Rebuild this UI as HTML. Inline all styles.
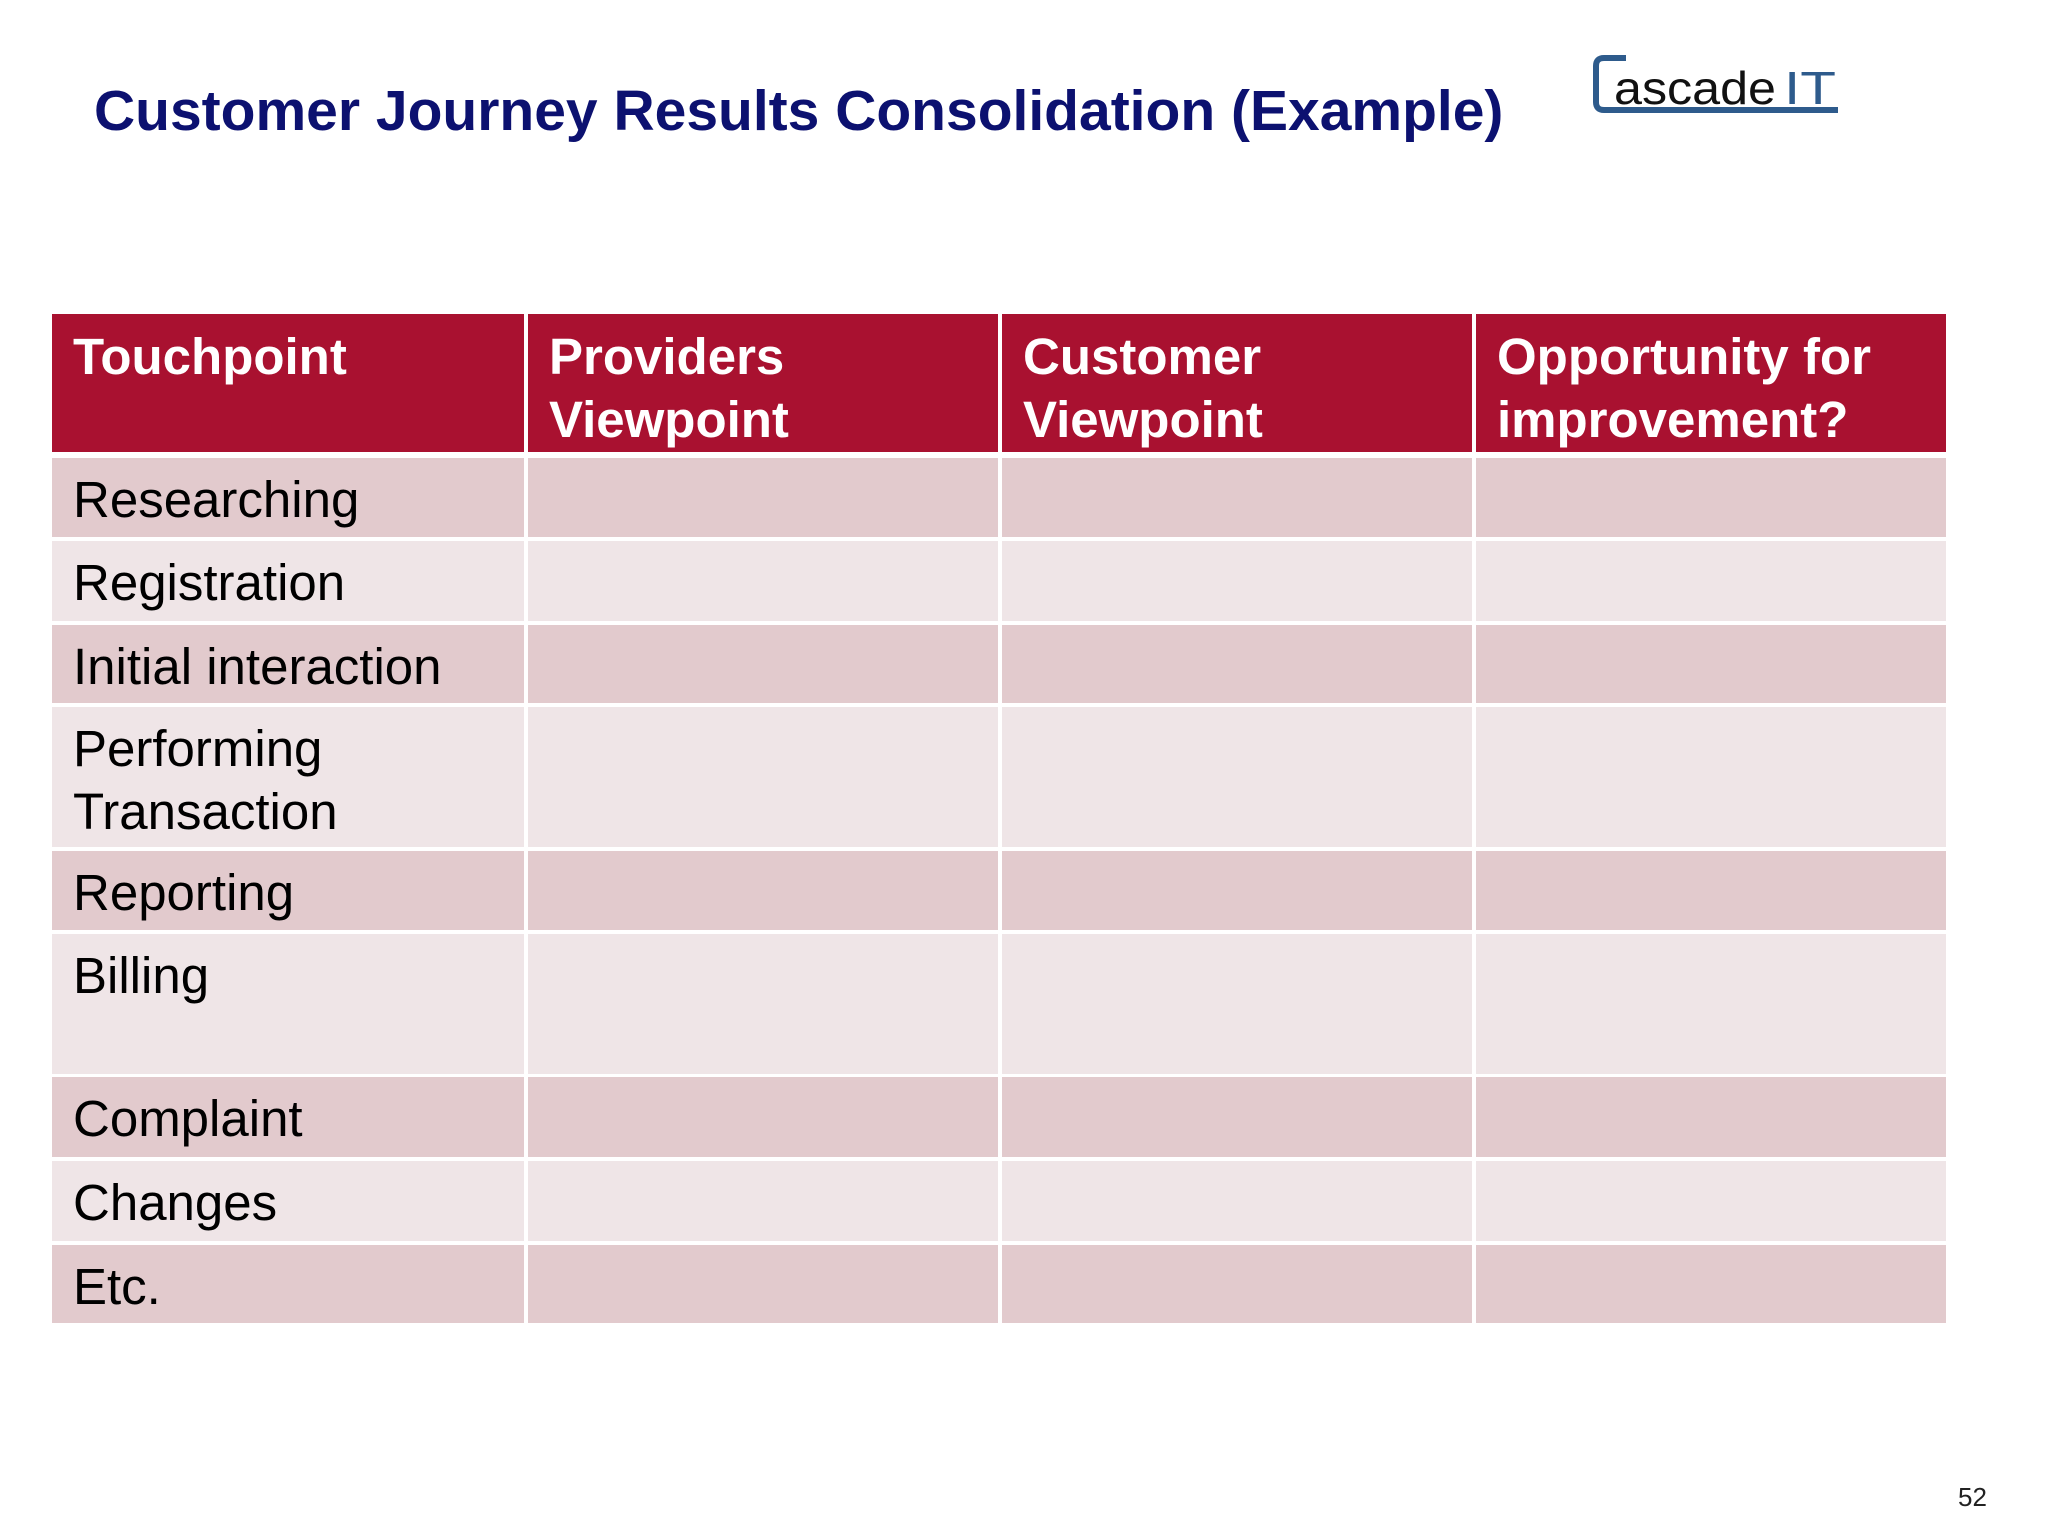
<!DOCTYPE html>
<html><head><meta charset="utf-8"><style>
body{margin:0;width:2048px;height:1536px;background:#fff;position:relative;overflow:hidden;font-family:"Liberation Sans",Arial,sans-serif}
.t{position:absolute;left:94px;top:78px;font-size:57px;font-weight:bold;color:#0c1170;white-space:nowrap}
.c{position:absolute;box-sizing:border-box;padding-left:21px}
.h{background:#a91130;color:#fff;font-weight:bold;font-size:51px;line-height:63px;padding-top:11px}
.r{font-size:51px;color:#000;line-height:63px;padding-top:10px}
.o{background:#e2cacd}.e{background:#efe5e7}
.pg{position:absolute;left:1958px;top:1482px;font-size:26px;color:#222}
</style></head><body>
<div class="t">Customer Journey Results Consolidation (Example)</div>
<svg style="position:absolute;left:1592px;top:54px" width="250" height="62" viewBox="0 0 250 62">
<path d="M34 4 H12 Q4 4 4 12 V48 Q4 56 12 56 H246" fill="none" stroke="#2e5b8c" stroke-width="6"/>
<text x="22" y="50" font-family="Liberation Sans" font-size="46" fill="#111" textLength="162" lengthAdjust="spacingAndGlyphs">ascade</text>
<text x="192" y="50" font-family="Liberation Sans" font-size="46" fill="#2e5b8c" textLength="52" lengthAdjust="spacingAndGlyphs">IT</text>
</svg>
<div id="tbl"></div>
<div class="pg">52</div>
<script>
const cols=[52,526,1000,1474,1946];
const heads=["Touchpoint","Providers<br>Viewpoint","Customer<br>Viewpoint","Opportunity for<br>improvement?"];
const rows=[["Researching",458,537],["Registration",541,621],["Initial interaction",625,703],["Performing<br>Transaction",707,847],["Reporting",851,930],["Billing",934,1074],["Complaint",1077,1157],["Changes",1161,1241],["Etc.",1245,1323]];
const tbl=document.getElementById('tbl');
function cell(cls,x0,x1,y0,y1,html){const d=document.createElement('div');d.className='c '+cls;d.style.left=x0+'px';d.style.width=(x1-x0)+'px';d.style.top=y0+'px';d.style.height=(y1-y0)+'px';d.innerHTML=html;tbl.appendChild(d);return d;}
for(let i=0;i<4;i++){const d=cell('h',cols[i]+(i?2:0),cols[i+1]-(i<3?2:0),314,452,heads[i]);

}
rows.forEach((r,j)=>{for(let i=0;i<4;i++){const d=cell('r '+(j%2?'e':'o'),cols[i]+(i?2:0),cols[i+1]-(i<3?2:0),r[1],r[2],i==0?r[0]:'');

}});
</script>
</body></html>
